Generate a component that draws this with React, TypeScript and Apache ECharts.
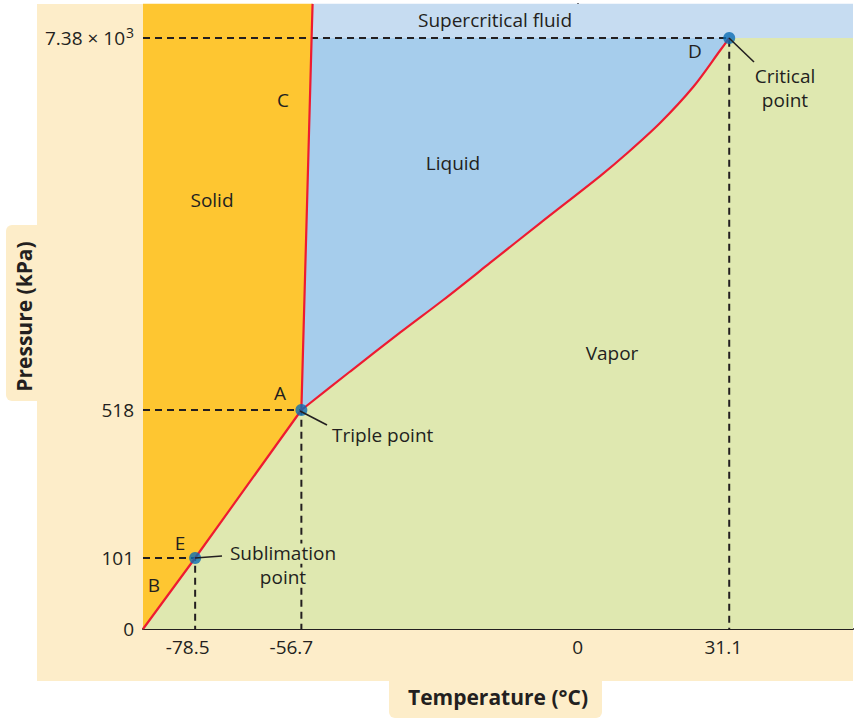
import React, { useEffect, useRef } from "react";
import * as echarts from "echarts";

// ---- axis scale configuration ----
const X_MIN = -89.2;
const X_MAX = 56.5;
const P_TOP = 8010;
const temperatureTicks = [-78.5, -56.7, 0, 31.1];
const pressureTicks = [0, 101, 518, 7380];
const pressureTickLabels = ["0", "101", "518", "{m|7.38 \u00d7 10}{s|3}"];
// schematic (non-linear) pressure axis: breakpoints in axis units
const pressureAxisBreaks = [0, 71, 219, 591];
const Y_MAX = 625;

// ---- data (temperature °C, pressure kPa) ----
const sublimationPoint = [-78.5, 101];
const triplePoint = [-56.7, 518];
const criticalPoint = [31.1, 7380];
const sublimationCurve = [[X_MIN, 0], [-78.5, 101], [-56.7, 518]];
const meltingCurve = [[-56.7, 518], [-54.6, 7380], [-54.4, P_TOP]];
const vaporCurve = [
  [-56.7, 518], [-46.7, 1228], [-36.4, 1948], [-27.6, 2547], [-18.0, 3230],
  [-7.7, 3967], [4.6, 4834], [10.2, 5259], [16.9, 5812],
  [23.7, 6476], [29.3, 7159], [31.1, 7380],
];

const C = {
  beige: "#fdedc9",
  solid: "#fec631",
  liquid: "#a6cdec",
  super: "#c6dcf1",
  vapor: "#dfe8b0",
  red: "#ee1b31",
  point: "#0b6db4",
  text: "#231f20",
};
const FONT = "'Open Sans', sans-serif";
const xLabelShift = [15, 20, 0, 12]; // right padding to nudge tick labels left

function toY(p: number): number {
  const P = pressureTicks, H = pressureAxisBreaks;
  for (let i = 1; i < P.length; i++) {
    if (p <= P[i]) return H[i - 1] + ((p - P[i - 1]) / (P[i] - P[i - 1])) * (H[i] - H[i - 1]);
  }
  const n = P.length - 1;
  return H[n] + ((p - P[n]) / (P[n] - P[n - 1])) * (H[n] - H[n - 1]);
}
const m = (pts: number[][]) => pts.map(([t, p]) => [t, toY(p)]);

// flat-edged regions (the curved liquid/vapor boundary is drawn by an area line series)
const regions = [
  {
    color: C.liquid,
    pts: [triplePoint, meltingCurve[1], criticalPoint, [criticalPoint[0], triplePoint[1]]],
  },
  {
    color: C.vapor,
    pts: [[X_MIN, 0], sublimationPoint, triplePoint, [triplePoint[0] + 1.2, 0]],
  },
  {
    color: C.vapor,
    pts: [[criticalPoint[0] - 0.6, 0], criticalPoint, [X_MAX, criticalPoint[1]], [X_MAX, 0]],
  },
  {
    color: C.super,
    pts: [meltingCurve[1], [X_MAX, criticalPoint[1]], [X_MAX, P_TOP], meltingCurve[2]],
  },
  {
    color: C.solid,
    pts: [[X_MIN, 0], ...sublimationCurve.slice(1), ...meltingCurve.slice(1), [X_MIN, P_TOP]],
  },
];

const SMOOTH = 0.3;

function dashed(pts: number[][]) {
  return {
    type: "line",
    data: m(pts),
    symbol: "none",
    z: 3,
    silent: true,
    lineStyle: { color: C.text, width: 2, type: [7, 5] },
  };
}
function redLine(pts: number[][], smooth: number | boolean = false) {
  return {
    type: "line",
    data: m(pts),
    symbol: "none",
    smooth,
    z: 4,
    silent: true,
    lineStyle: { color: C.red, width: 2.2 },
  };
}

function txt(text: string, x: number, y: number, extra: any = {}) {
  return {
    type: "text",
    x,
    y,
    z: 100,
    style: {
      text,
      fill: C.text,
      font: `19px ${FONT}`,
      align: "center",
      verticalAlign: "middle",
      ...extra,
    },
  };
}
function leader(x1: number, y1: number, x2: number, y2: number) {
  return {
    type: "line",
    z: 90,
    shape: { x1, y1, x2, y2 },
    style: { stroke: C.text, lineWidth: 1.6 },
  };
}

export default function App() {
  const ref = useRef<HTMLDivElement>(null);
  useEffect(() => {
    document.body.style.margin = "0";
    const chart = echarts.init(ref.current!, null, { renderer: "svg" });
    const xRich: any = {};
    xLabelShift.forEach((s, i) => {
      xRich["o" + i] = { padding: [0, s, 0, 0], fontSize: 19, fontFamily: FONT, color: C.text };
    });
    const option: any = {
      animation: false,
      grid: { left: 143, right: 8, top: 4, bottom: 94 },
      xAxis: {
        type: "value",
        min: X_MIN,
        max: X_MAX,
        name: "Temperature (\u00b0C)",
        nameLocation: "middle",
        nameGap: 57,
        nameTextStyle: { color: C.text, fontFamily: FONT, fontWeight: "bold", fontSize: 21 },
        splitLine: { show: false },
        axisTick: { show: false },
        axisLine: { show: true, lineStyle: { color: C.text, width: 2 } },
        axisLabel: {
          customValues: temperatureTicks,
          formatter: (v: number) => {
            const i = temperatureTicks.indexOf(v);
            return `{o${i}|${v}}`;
          },
          rich: xRich,
          color: C.text,
          fontFamily: FONT,
          fontSize: 19,
          margin: 8,
        },
      },
      yAxis: {
        type: "value",
        min: 0,
        max: Y_MAX,
        name: "Pressure (kPa)",
        nameLocation: "middle",
        nameGap: 109,
        nameTextStyle: { color: C.text, fontFamily: FONT, fontWeight: "bold", fontSize: 21 },
        splitLine: { show: false },
        axisTick: { show: false },
        axisLine: { show: true, lineStyle: { color: C.text, width: 2 } },
        axisLabel: {
          customValues: pressureTicks.map(toY),
          formatter: (v: number) => {
            const i = pressureTicks.findIndex((p) => Math.abs(toY(p) - v) < 0.01);
            return i >= 0 ? pressureTickLabels[i] : "";
          },
          rich: {
            m: { fontSize: 19, fontFamily: FONT, color: C.text, lineHeight: 26, verticalAlign: "middle" },
            s: { fontSize: 14, fontFamily: FONT, color: C.text, lineHeight: 26, verticalAlign: "top", padding: [0, 0, 0, 1] },
          },
          color: C.text,
          fontFamily: FONT,
          fontSize: 19,
          margin: 9,
        },
      },
      graphic: [
        { type: "rect", z: -10, shape: { x: 37, y: 4, width: 816, height: 677 }, style: { fill: C.beige } },
        { type: "rect", z: -10, shape: { x: 6, y: 225, width: 40, height: 176, r: [6, 0, 0, 6] }, style: { fill: C.beige } },
        { type: "rect", z: -10, shape: { x: 389, y: 670, width: 213, height: 48, r: [0, 0, 6, 6] }, style: { fill: C.beige } },
        txt("Supercritical fluid", 495, 20),
        txt("Solid", 212, 200),
        txt("Liquid", 453, 163),
        txt("Vapor", 612, 353),
        txt("C", 283, 100),
        txt("D", 695, 51),
        txt("A", 280, 393),
        txt("E", 180, 543),
        txt("B", 154, 585),
        txt("Critical\npoint", 785, 88, { lineHeight: 24 }),
        txt("Triple point", 332, 435, { align: "left" }),
        txt("Sublimation", 283, 553, { backgroundColor: C.vapor, padding: [0, 1] }),
        txt("point", 283, 577, { backgroundColor: C.vapor, padding: [0, 1] }),
        leader(729, 38, 754, 62),
        leader(300, 411, 327, 425),
        leader(195, 558, 222, 556),
      ],
      series: [
        {
          type: "custom",
          z: 1,
          silent: true,
          data: regions.map((_, i) => [X_MIN, 0, i]),
          renderItem: (params: any, api: any) => {
            const r = regions[params.dataIndex];
            return {
              type: "polygon",
              shape: { points: m(r.pts).map((pt) => api.coord(pt)) },
              style: { fill: r.color },
            };
          },
        },
        {
          // vapor area beneath the (smooth) vaporization curve
          type: "line",
          data: m(vaporCurve),
          symbol: "none",
          smooth: SMOOTH,
          z: 2,
          silent: true,
          lineStyle: { width: 0 },
          areaStyle: { color: C.vapor, opacity: 1, origin: "start" },
        },
        dashed([[X_MIN, sublimationPoint[1]], sublimationPoint, [sublimationPoint[0], 0]]),
        dashed([[X_MIN, triplePoint[1]], triplePoint, [triplePoint[0], 0]]),
        dashed([[X_MIN, criticalPoint[1]], criticalPoint, [criticalPoint[0], 0]]),
        redLine(sublimationCurve),
        redLine(meltingCurve),
        redLine(vaporCurve, SMOOTH),
        {
          type: "scatter",
          z: 5,
          silent: true,
          symbolSize: 12,
          itemStyle: { color: C.point },
          data: m([sublimationPoint, triplePoint, criticalPoint]),
        },
      ],
    };
    chart.setOption(option);
    return () => chart.dispose();
  }, []);
  return <div ref={ref} style={{ width: 861, height: 723 }} />;
}
